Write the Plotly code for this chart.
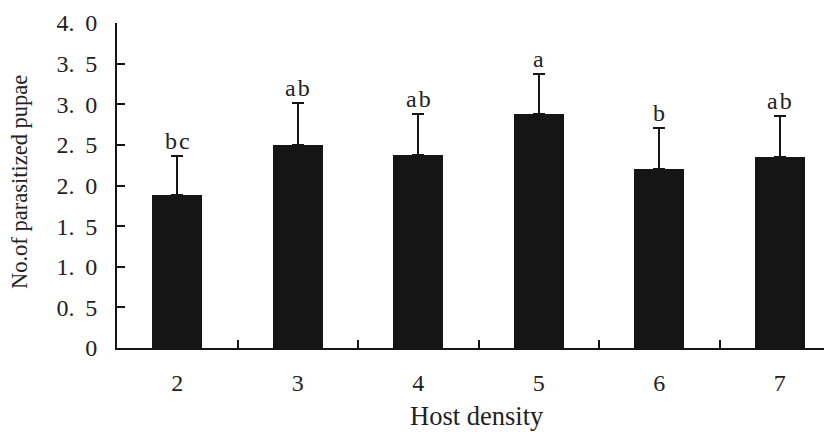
import plotly.graph_objects as go

categories = ["2", "3", "4", "5", "6", "7"]
means = [1.88, 2.50, 2.37, 2.88, 2.20, 2.35]
errors = [0.48, 0.51, 0.51, 0.49, 0.51, 0.50]
letters = ["bc", "ab", "ab", "a", "b", "ab"]
ytick_vals = [0, 0.5, 1.0, 1.5, 2.0, 2.5, 3.0, 3.5, 4.0]
ytick_text = ["0", "0. 5", "1. 0", "1. 5", "2. 0", "2. 5", "3. 0", "3. 5", "4. 0"]

INK = "#151515"
TXT = "#222222"
SERIF = "Liberation Serif, Times New Roman, serif"

# page body has an 8px default margin; plot area placed so it lands at window x 117..., y 23..348
L, T, W, H = 109, 15, 832, 432
PW, PH = W - L, 325

fig = go.Figure()
fig.add_trace(go.Bar(
    x=list(range(len(categories))), y=means, width=0.415,
    marker=dict(color=INK, line=dict(width=0)),
    error_y=dict(type="data", array=errors, symmetric=False, arrayminus=[0]*len(errors),
                 color=INK, thickness=2, width=6),
    showlegend=False,
))

for i, (m, e, t) in enumerate(zip(means, errors, letters)):
    fig.add_annotation(x=i, y=m + e, text="\u200a".join(t), showarrow=False, yanchor="bottom",
                       yshift=0, font=dict(family=SERIF, size=24, color=TXT))

fig.add_annotation(xref="paper", yref="paper", x=(11 - L) / PW, y=(340 - 174) / PH,
                   text="No.of parasitized pupae",
                   textangle=-90, showarrow=False, xanchor="center", yanchor="middle",
                   font=dict(family=SERIF, size=22.5, color=TXT))
fig.add_annotation(xref="paper", yref="paper", x=(469 - L) / PW, y=(340 - 408) / PH,
                   text="Host density",
                   showarrow=False, xanchor="center", yanchor="middle",
                   font=dict(family=SERIF, size=26.5, color=TXT))

fig.update_layout(
    width=W, height=H,
    margin=dict(l=L, r=0, t=T, b=H - T - PH),
    plot_bgcolor="white", paper_bgcolor="white",
    font=dict(family=SERIF, color=TXT),
    bargap=0,
)
fig.update_xaxes(
    range=[-0.5, 5.5], automargin=False,
    tickvals=list(range(len(categories))), ticktext=categories,
    showline=True, linecolor=INK, linewidth=2,
    ticks="", showgrid=False, zeroline=False,
    tickfont=dict(family=SERIF, size=24, color=TXT), ticklabelstandoff=12,
    minor=dict(tickvals=[0.5, 1.5, 2.5, 3.5, 4.5], ticks="inside", ticklen=8, tickwidth=1.5, tickcolor=INK, showgrid=False),
)
fig.update_yaxes(
    range=[0, 4], tickvals=ytick_vals, ticktext=[s.replace(" ", " \u2009") for s in ytick_text],
    automargin=False,
    showline=True, linecolor=INK, linewidth=2,
    ticks="inside", ticklen=8, tickwidth=1.5, tickcolor=INK,
    tickfont=dict(family=SERIF, size=24, color=TXT), ticklabelstandoff=13,
    showgrid=False, zeroline=False,
)

fig.write_html("out.html")
